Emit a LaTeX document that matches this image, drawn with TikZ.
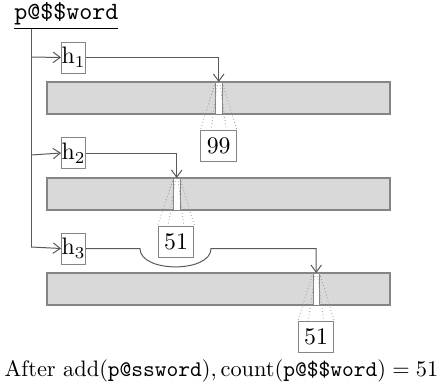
\documentclass[tikz,border=0pt]{standalone}
\usepackage{amsmath}
\usetikzlibrary{arrows.meta,calc}
\definecolor{linec}{HTML}{5A5A5A}
\definecolor{boxc}{HTML}{858585}
\definecolor{barfill}{HTML}{D9D9D9}
\tikzset{
  conn/.style={draw=linec, line width=0.42pt},
  arr/.style={conn, -{Straight Barb[length=3pt,width=4.4pt]}},
  hbox/.style={draw=boxc, line width=0.4pt, fill=white, inner sep=0pt, minimum width=9.7pt, minimum height=13pt},
  numbox/.style={draw=boxc, line width=0.4pt, fill=white, inner sep=0pt, minimum width=15pt, minimum height=13pt},
  bar/.style={draw=boxc, line width=0.45pt, fill=barfill},
  slotbox/.style={draw=boxc, line width=0.4pt, fill=white},
  fan/.style={draw=gray!80, line width=0.35pt, densely dotted}
}
\begin{document}
\begin{tikzpicture}[x=0.42pt,y=-0.42pt]
\useasboundingbox (0,0) rectangle (443,388);
% title
\node[anchor=west, inner sep=0pt] (title) at (14,16) {\underline{\scalebox{1.04}{\texttt{p@\$\$word}}}};
\coordinate (top) at (31,29);
\coordinate (b1) at (31,57);
\coordinate (b2) at (31,155);
\coordinate (b3) at (31,247);
% bars
\path[bar] (47,82) rectangle (390,114);
\path[bar] (47,178) rectangle (390,210);
\path[bar] (47,273) rectangle (390,305);
\coordinate (bar1) at (218.7,82);
\coordinate (bar2) at (176.7,178);
\coordinate (bar3) at (316.2,273);
% slots
\path[slotbox] (215.5,82) rectangle (222,114);
\path[slotbox] (173.5,178) rectangle (180,210);
\path[slotbox] (313,273) rectangle (319.5,305);
% h boxes
\node[hbox] (h1) at (73.5,57.5) {$\mathrm{h}_1$};
\node[hbox] (h2) at (73.5,153) {$\mathrm{h}_2$};
\node[hbox] (h3) at (73.5,248.5) {$\mathrm{h}_3$};
% number boxes
\node[numbox] (n1) at (218.7,146) {99};
\node[numbox] (n2) at (176,241.5) {51};
\node[numbox] (n3) at (316,337) {51};
% fan lines
\draw[fan] (215.5,82) -- (n1.north west);
\draw[fan] (217.7,82) -- ($(n1.north west)!0.29!(n1.north east)$);
\draw[fan] (219.8,82) -- ($(n1.north west)!0.71!(n1.north east)$);
\draw[fan] (222,82) -- (n1.north east);
\draw[fan] (173.5,178) -- (n2.north west);
\draw[fan] (175.7,178) -- ($(n2.north west)!0.29!(n2.north east)$);
\draw[fan] (177.8,178) -- ($(n2.north west)!0.71!(n2.north east)$);
\draw[fan] (180,178) -- (n2.north east);
\draw[fan] (313,273) -- (n3.north west);
\draw[fan] (315.2,273) -- ($(n3.north west)!0.29!(n3.north east)$);
\draw[fan] (317.3,273) -- ($(n3.north west)!0.71!(n3.north east)$);
\draw[fan] (319.5,273) -- (n3.north east);
% connectors
\draw[conn] (top) -- (b3);
\draw[arr] (b1) -- (h1.west);
\draw[arr] (b2) -- (h2.west);
\draw[arr] (b3) -- (h3.west);
\draw[arr] (h1.east) -| (bar1);
\draw[arr] (h2.east) -| (bar2);
\coordinate (c1) at (140,248.5);
\coordinate (c2) at (211,248.5);
\draw[arr] (h3.east) -- (c1) .. controls (140,273) and (211,273) .. (c2) -| (bar3);
% caption
\node[inner sep=0pt] (cap) at (221.5,371) {\scalebox{0.94}{After add$(\texttt{p@ssword}), \mathrm{count}(\texttt{p@\$\$word}) = 51$}};
\end{tikzpicture}
\end{document}
